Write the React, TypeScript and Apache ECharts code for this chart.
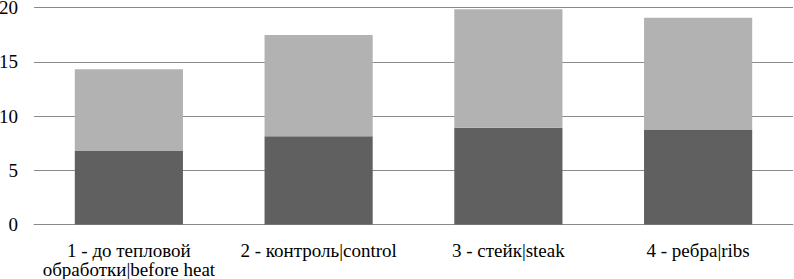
import React, { useEffect, useRef } from "react";
import * as echarts from "echarts";

const categories = [
  "1 - до тепловой\nобработки|before heat",
  "2 - контроль|control",
  "3 - стейк|steak",
  "4 - ребра|ribs",
];
const bottomValues = [6.77, 8.13, 8.92, 8.71];
const topValues = [7.53, 9.33, 10.91, 10.35];
const yTicks = { min: 0, max: 20, interval: 5 };

const FONT = "Liberation Serif";
const richStyle = {
  t: { fontFamily: FONT, fontSize: 19, lineHeight: 19, color: "#000" },
};
const wrap = (v: string | number) =>
  String(v)
    .split("\n")
    .map((l) => `{t|${l}}`)
    .join("\n");

export default function App() {
  const ref = useRef<HTMLDivElement>(null);
  useEffect(() => {
    if (!ref.current) return;
    const chart = echarts.init(ref.current, undefined, { renderer: "svg" });
    chart.setOption({
      animation: false,
      textStyle: { fontFamily: FONT },
      grid: { left: 34, right: 1, top: 7.5, bottom: 54.5, outerBoundsMode: "none" },
      xAxis: {
        type: "category",
        data: categories,
        axisTick: { show: false },
        axisLine: { lineStyle: { color: "#8a8a8a", width: 1 } },
        axisLabel: {
          color: "#000",
          fontFamily: FONT,
          fontSize: 19,
          lineHeight: 19,
          margin: 16,
          interval: 0,
          formatter: wrap,
          rich: richStyle,
        },
      },
      yAxis: {
        type: "value",
        min: yTicks.min,
        max: yTicks.max,
        interval: yTicks.interval,
        axisLine: { show: false },
        axisTick: { show: false },
        axisLabel: {
          color: "#000",
          fontFamily: FONT,
          fontSize: 19,
          margin: 16,
          formatter: wrap,
          rich: richStyle,
        },
        splitLine: { lineStyle: { color: "#8a8a8a", width: 1 } },
      },
      series: [
        {
          type: "bar",
          stack: "a",
          data: bottomValues,
          barCategoryGap: "43%",
          itemStyle: { color: "#606060" },
        },
        {
          type: "bar",
          stack: "a",
          data: topValues,
          barCategoryGap: "43%",
          itemStyle: { color: "#b2b2b2" },
        },
      ],
    });
    return () => chart.dispose();
  }, []);
  return (
    <div
      ref={ref}
      style={{ position: "absolute", left: 0, top: 0, width: 794, height: 279 }}
    />
  );
}
